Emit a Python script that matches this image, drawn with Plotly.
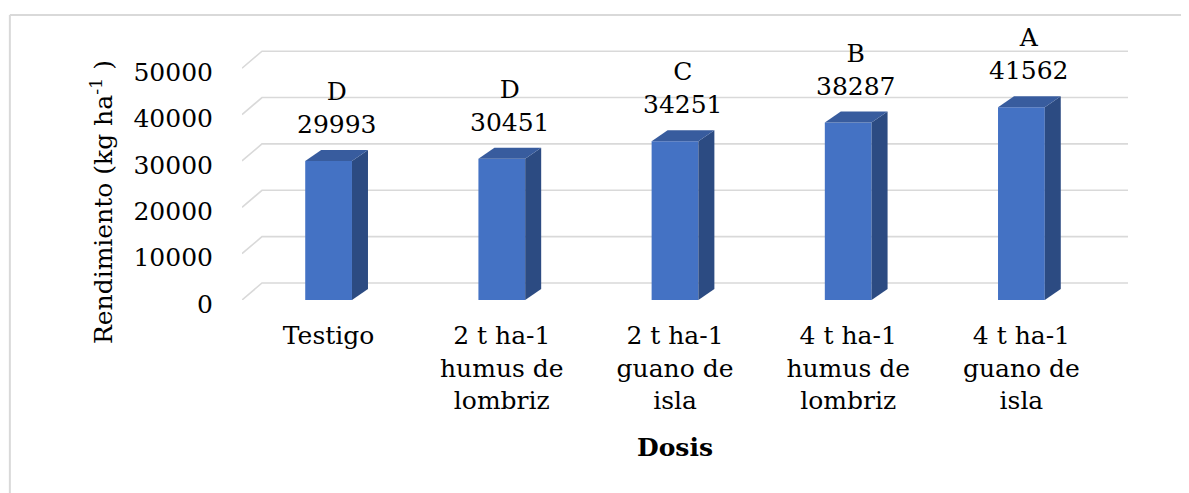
import plotly.graph_objects as go

categorias = ["Testigo", "2 t ha-1<br>humus de<br>lombriz", "2 t ha-1<br>guano de<br>isla",
              "4 t ha-1<br>humus de<br>lombriz", "4 t ha-1<br>guano de<br>isla"]
rendimiento = [29993, 30451, 34251, 38287, 41562]
letras = ["D", "D", "C", "B", "A"]
ticks_y = [0, 10000, 20000, 30000, 40000, 50000]

FONT = "DejaVu Serif"
FS = 25
FRONT = "#4472C4"
SIDE = "#2C4B82"
TOP = "#385C9E"
GRID = "#D9D9D9"

# 3D look: pixel offsets converted to data units (x: 173.25 px per category, y: 232 px per 50000)
px_x = 1 / 173.25
px_y = 50000 / 232
bw = 0.27
dxb, dyb = 16 * px_x, 11 * px_y     # bar depth
dxw, dyw = 20 * px_x, 17 * px_y     # back wall depth

fig = go.Figure()

# back wall gridlines + left diagonals, drawn under the bars
for t in ticks_y:
    fig.add_shape(
        type="path", xref="x", yref="y", layer="below",
        path=f"M{-0.5},{t} L{-0.5 + dxw},{t + dyw} L{4.5 + dxw},{t + dyw}",
        line=dict(color=GRID, width=1.6)
    )

fig.add_trace(go.Bar(
    x=list(range(len(rendimiento))), y=rendimiento, width=bw,
    marker=dict(color=FRONT, line=dict(width=0)), showlegend=False
))

for i, v in enumerate(rendimiento):
    r = i + bw / 2
    l = i - bw / 2
    # side face
    fig.add_trace(go.Scatter(
        x=[r, r + dxb, r + dxb, r, r], y=[0, dyb, v + dyb, v, 0],
        fill="toself", fillcolor=SIDE, mode="lines", line=dict(width=0, color=SIDE),
        showlegend=False, hoverinfo="skip"
    ))
    # top face
    fig.add_trace(go.Scatter(
        x=[l, l + dxb, r + dxb, r, l], y=[v, v + dyb, v + dyb, v, v],
        fill="toself", fillcolor=TOP, mode="lines", line=dict(width=0, color=TOP),
        showlegend=False, hoverinfo="skip"
    ))
    fig.add_annotation(
        x=i + dxb / 2, y=v + dyb, text=letras[i] + "<br>" + str(v),
        showarrow=False, yanchor="bottom", yshift=9,
        font=dict(family=FONT, size=FS, color="#000000")
    )

fig.add_annotation(
    x=2, xref="x", y=0, yref="paper", yshift=-147,
    text="<b>Dosis</b>", showarrow=False, yanchor="middle",
    font=dict(family=FONT, size=FS, color="#000000")
)
fig.add_annotation(
    x=-0.158, xref="paper", xanchor="center", y=0.384, yref="paper", yanchor="middle",
    text="Rendimiento (kg ha<sup>-1</sup> )", textangle=-90, showarrow=False,
    font=dict(family=FONT, size=FS, color="#000000")
)

# chart border (top and left edges are the visible ones)
fig.add_shape(type="line", xref="paper", yref="paper", x0=-0.262, x1=1.2, y0=1.1176, y1=1.1176,
              line=dict(color=GRID, width=2))
fig.add_shape(type="line", xref="paper", yref="paper", x0=-0.262, x1=-0.262, y0=1.1176, y1=-1,
              line=dict(color=GRID, width=2))

# page has an 8px body margin, so the figure is 8px smaller than the window
fig.update_layout(
    width=1181, height=485,
    margin=dict(l=234, r=61, t=37, b=193),
    paper_bgcolor="white", plot_bgcolor="white",
    font=dict(family=FONT, size=FS, color="#000000"),
    xaxis=dict(
        range=[-0.5, 4.5 + dxw], tickvals=list(range(5)), ticktext=categorias,
        showgrid=False, zeroline=False, showline=False, ticklabelstandoff=18,
        tickfont=dict(family=FONT, size=FS)
    ),
    yaxis=dict(
        range=[0, 55000], tickvals=ticks_y, tickformat="d", showgrid=False, zeroline=False,
        showline=False, ticklabelstandoff=28, ticklabelshift=4,
        tickfont=dict(family=FONT, size=FS)
    ),
)

fig.write_html("out.html")
